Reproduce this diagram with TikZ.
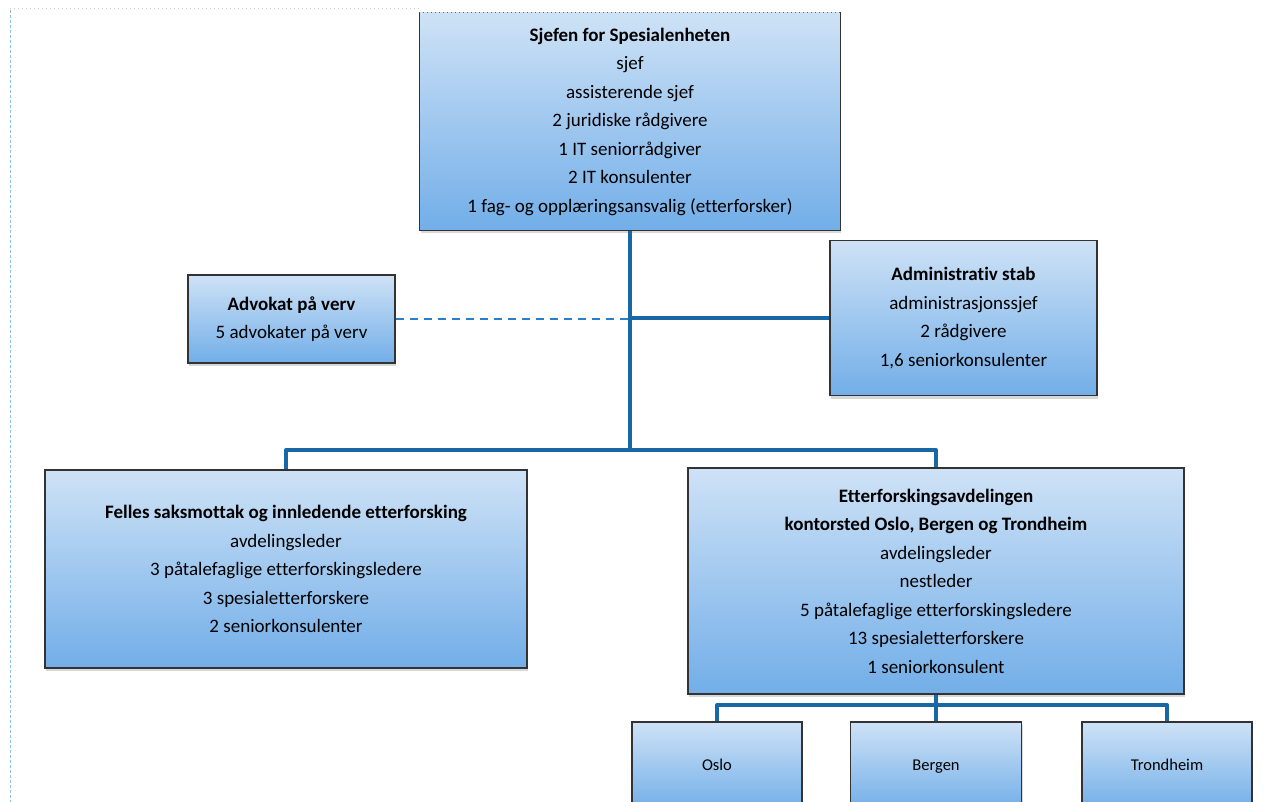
\documentclass[tikz,border=0pt]{standalone}
\usepackage{fontspec}
\setmainfont{Carlito}[Ligatures=NoCommon]
\usetikzlibrary{shadows}
\definecolor{conncol}{RGB}{24,104,166}
\definecolor{dashcol}{RGB}{40,128,200}
\definecolor{boxtop}{RGB}{206,226,246}
\definecolor{boxbot}{RGB}{114,174,232}
\definecolor{framecol}{RGB}{140,192,224}
\tikzset{
  orgbox/.style={draw=black!80, line width=1.1pt, top color=boxtop, bottom color=boxbot,
    align=center, inner sep=0pt, font=\fontsize{19}{28.5}\selectfont,
    drop shadow={shadow xshift=1pt, shadow yshift=-3pt, opacity=0.25, fill=black!60}},
  citybox/.style={orgbox, font=\fontsize{16.5}{20}\selectfont, text height=11pt, text depth=3pt},
  conn/.style={draw=conncol, line width=4pt, line join=round},
  dashline/.style={draw=dashcol, line width=2pt, dash pattern=on 8pt off 6pt},
}
\begin{document}
\begin{tikzpicture}[x=1pt,y=-1pt]
\clip (0,0) rectangle (1282,802);
\fill[white] (0,0) rectangle (1282,802);
% page frame artifacts
\draw[framecol, line width=1pt, dash pattern=on 3pt off 2pt] (10,10) -- (10,802);
\draw[black!20, line width=0.6pt, dash pattern=on 1pt off 3pt] (10,8) -- (420,8);

% boxes
\node[orgbox, minimum width=420pt, minimum height=217pt, draw=none] (top) at (630,121.5)
 {\textbf{Sjefen for Spesialenheten}\\ sjef\\ assisterende sjef\\ 2 juridiske rådgivere\\ 1 IT seniorrådgiver\\ 2 IT konsulenter\\ 1 fag- og opplæringsansvalig (etterforsker)};
\draw[black!80, line width=1.1pt] (top.north west) -- (top.south west) -- (top.south east) -- (top.north east);
\draw[black!60, line width=1pt, dash pattern=on 1pt off 3pt] (top.north west) -- (top.north east);

\node[orgbox, minimum width=207pt, minimum height=88pt] (adv) at (291.5,319)
 {\textbf{Advokat på verv}\\ 5 advokater på verv};
\node[orgbox, minimum width=267pt, minimum height=155pt] (admin) at (963.5,318)
 {\textbf{Administrativ stab}\\ administrasjonssjef\\ 2 rådgivere\\ 1,6 seniorkonsulenter};
\node[orgbox, minimum width=482pt, minimum height=198pt] (felles) at (286,569)
 {\textbf{Felles saksmottak og innledende etterforsking}\\ avdelingsleder\\ 3 påtalefaglige etterforskingsledere\\ 3 spesialetterforskere\\ 2 seniorkonsulenter};
\node[orgbox, minimum width=496pt, minimum height=226pt] (etter) at (936,581)
 {\textbf{Etterforskingsavdelingen}\\ \textbf{kontorsted Oslo, Bergen og Trondheim}\\ avdelingsleder\\ nestleder\\ 5 påtalefaglige etterforskingsledere\\ 13 spesialetterforskere\\ 1 seniorkonsulent};
\node[citybox, minimum width=170pt, minimum height=88pt] (oslo) at (717,766) {Oslo};
\node[citybox, minimum width=171pt, minimum height=88pt] (bergen) at (936,766) {Bergen};
\node[citybox, minimum width=170pt, minimum height=88pt] (trond) at (1167,766) {Trondheim};

% connectors
\coordinate (hub) at (630,450);
\coordinate (lb) at (936,705);
\draw[conn] (top.south) -- (hub);
\draw[conn] (top.south |- admin.west) -- (admin.west);
\draw[dashline] (adv.east) -- (adv.east -| top.south);
\draw[conn] (felles.north) |- (hub) -| (etter.north);
\draw[conn] (etter.south) -- (lb);
\draw[conn] (oslo.north) |- (lb) -| (trond.north);
\draw[conn] (lb) -- (bergen.north);
\end{tikzpicture}
\end{document}
